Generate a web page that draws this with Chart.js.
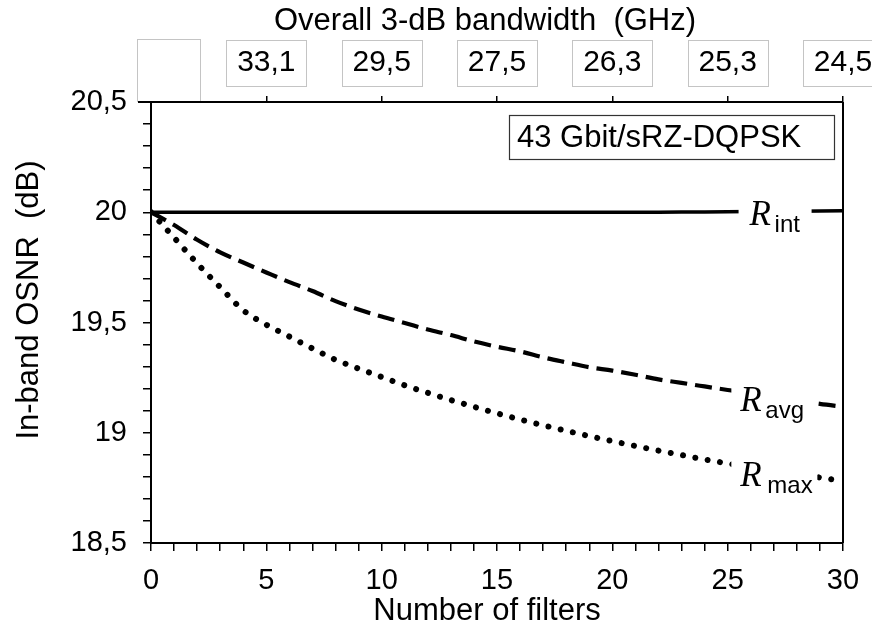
<!DOCTYPE html>
<html>
<head>
<meta charset="utf-8">
<script src="https://cdn.jsdelivr.net/npm/chart.js@4.4.1/dist/chart.umd.min.js"></script>
<style>
html,body{margin:0;padding:0;background:#fff;}
#wrap{width:872px;height:629px;position:relative;}
canvas{display:block;}
</style>
</head>
<body>
<div id="wrap"><canvas id="c" width="872" height="629"></canvas></div>
<script>
// ---- data ----
const filters = [0,1,2,3,4,5,6,7,8,9,10,11,12,13,14,15,16,17,18,19,20,21,22,23,24,25,26,27,28,29,30];
const rInt = [20,20,20,20,20,20,20,20,20,20,20,20,20,20,20,20,20,20,20,20,20,20,20,20.001,20.001,20.002,20.003,20.004,20.005,20.006,20.007];
const rAvg = [20.0,19.942,19.875,19.818,19.772,19.727,19.683,19.643,19.597,19.559,19.527,19.498,19.468,19.443,19.414,19.39,19.369,19.342,19.319,19.297,19.282,19.263,19.242,19.226,19.21,19.194,19.18,19.163,19.147,19.131,19.118];
const rMax = [20.0,19.885,19.768,19.66,19.555,19.49,19.436,19.382,19.331,19.291,19.253,19.215,19.181,19.148,19.118,19.088,19.06,19.034,19.009,18.985,18.962,18.94,18.919,18.899,18.879,18.861,18.844,18.828,18.812,18.797,18.78];
const topTickValues = [5,10,15,20,25,30];
const bandwidthLabels = ['33,1','29,5','27,5','26,3','25,3','24,5'];
const xTitle = 'Number of filters';
const yTitle = 'In-band OSNR  (dB)';
const topTitle = 'Overall 3-dB bandwidth  (GHz)';
const boxText = '43 Gbit/sRZ-DQPSK';
const seriesSubs = ['int','avg','max'];

const FONT = "'Liberation Sans', Arial, Helvetica, sans-serif";
const SERIF = "'Liberation Serif', 'Times New Roman', serif";
const toPts = ys => filters.map((x,i)=>({x:x, y:ys[i]}));
const noPad = s => { s.paddingLeft = 0; s.paddingRight = 0; s.paddingTop = 0; s.paddingBottom = 0; };

const deco = {
  id:'deco',
  beforeDraw(chart){
    const c = chart.ctx, top = chart.scales.xTop;
    c.save();
    c.fillStyle='#fff'; c.fillRect(0,0,chart.width,chart.height);
    c.strokeStyle='#c4c4c4'; c.lineWidth=1;
    c.strokeRect(137.5,39.5,63,62);
    topTickValues.forEach(v=>{
      const px = top.getPixelForValue(v);
      c.fillStyle='#fff';
      c.fillRect(px-40,40.5,80,46);
      c.strokeRect(Math.round(px-40)+0.5,40.5,80,46);
    });
    c.restore();
  },
  afterDraw(chart){
    const c = chart.ctx, a = chart.chartArea, xs = chart.scales.x, ys = chart.scales.y;
    c.save();
    c.strokeStyle='#000'; c.lineWidth=2;
    c.beginPath();
    c.moveTo(138,a.top); c.lineTo(a.right,a.top);
    c.moveTo(a.right,a.top); c.lineTo(a.right,a.bottom);
    c.stroke();
    const labels = [
      {sub:seriesSubs[0], xv:25.95, yv:20.0, rect:[-11,-14,73,38], rdy:13, sdy:20, sdx:25},
      {sub:seriesSubs[1], xv:25.55, yv:19.2, rect:[-9,-8,86,46], rdy:22, sdy:29, sdx:25},
      {sub:seriesSubs[2], xv:25.55, yv:18.86, rect:[-9,-10,86,44], rdy:22, sdy:29, sdx:27}
    ];
    labels.forEach(L=>{
      const px = xs.getPixelForValue(L.xv), py = ys.getPixelForValue(L.yv);
      c.fillStyle='#fff';
      c.fillRect(px+L.rect[0], py+L.rect[1], L.rect[2], L.rect[3]);
      c.fillStyle='#000';
      c.textBaseline='alphabetic'; c.textAlign='left';
      c.font = "italic 35px "+SERIF;
      c.fillText('R', px, py+L.rdy);
      c.font = "24px "+FONT;
      c.fillText(L.sub, px+L.sdx, py+L.sdy);
    });
    c.lineWidth=1.2; c.strokeStyle='#333'; c.fillStyle='#fff';
    c.fillRect(509,115,325,45);
    c.strokeRect(509.5,115.5,325,44);
    c.fillStyle='#000'; c.font="31px "+FONT; c.textBaseline='middle'; c.textAlign='left';
    c.fillText(boxText, 517, 138);
    c.textAlign='center'; c.textBaseline='middle';
    c.fillText(topTitle, 485, 21);
    c.fillText(xTitle, 487, 611);
    c.translate(29, 300); c.rotate(-Math.PI/2);
    c.fillText(yTitle, 0, 0);
    c.restore();
  }
};

new Chart(document.getElementById('c').getContext('2d'), {
  type:'line',
  data:{datasets:[
    {label:'R int', data:toPts(rInt), borderColor:'#000', borderWidth:3.5, pointRadius:0, tension:0},
    {label:'R avg', data:toPts(rAvg), borderColor:'#000', borderWidth:4.2, borderDash:[17,8], pointRadius:0, cubicInterpolationMode:'monotone'},
    {label:'R max', data:toPts(rMax), borderColor:'#000', borderWidth:6, borderDash:[0.01,12.5], borderCapStyle:'round', pointRadius:0, cubicInterpolationMode:'monotone'}
  ]},
  options:{
    responsive:false, animation:false, devicePixelRatio:1,
    layout:{padding:{left:0,right:29,top:0,bottom:0}},
    plugins:{legend:{display:false}, tooltip:{enabled:false}},
    scales:{
      x:{type:'linear', position:'bottom', min:0, max:30,
        afterFit:s=>{ s.height=86; noPad(s); },
        ticks:{stepSize:1, autoSkip:false, maxRotation:0, padding:13, color:'#000', font:{family:FONT,size:29},
          callback:v=> (Math.round(v)%5===0 ? String(v) : '')},
        grid:{drawOnChartArea:false, tickLength:8, color:'#000', lineWidth:1.5},
        border:{color:'#000', width:2}},
      xTop:{type:'linear', position:'top', min:0, max:30,
        afterFit:s=>{ s.height=102; noPad(s); },
        afterBuildTicks:s=>{ s.ticks = [0].concat(topTickValues).map(v=>({value:v})); },
        ticks:{autoSkip:false, maxRotation:0, padding:15, color:'#000', font:{family:FONT,size:30},
          callback:v=>{ const i = topTickValues.indexOf(v); return i>=0 ? bandwidthLabels[i] : ''; }},
        grid:{drawOnChartArea:false, tickLength:6, lineWidth:1.5,
          color:c=> (c.tick && c.tick.value===0 ? 'rgba(0,0,0,0)' : '#000')},
        border:{color:'#000', width:2}},
      y:{type:'linear', min:18.5, max:20.5,
        afterFit:s=>{ s.width=151; noPad(s); },
        ticks:{stepSize:0.1, autoSkip:false, padding:16, color:'#000', font:{family:FONT,size:29},
          callback:v=>{ const k = Math.round(v*10); return k%5===0 ? (k/10).toString().replace('.',',') : ''; }},
        grid:{drawOnChartArea:false, tickLength:8, color:'#000', lineWidth:1.5},
        border:{color:'#000', width:2}}
    }
  },
  plugins:[deco]
});
</script>
</body>
</html>
